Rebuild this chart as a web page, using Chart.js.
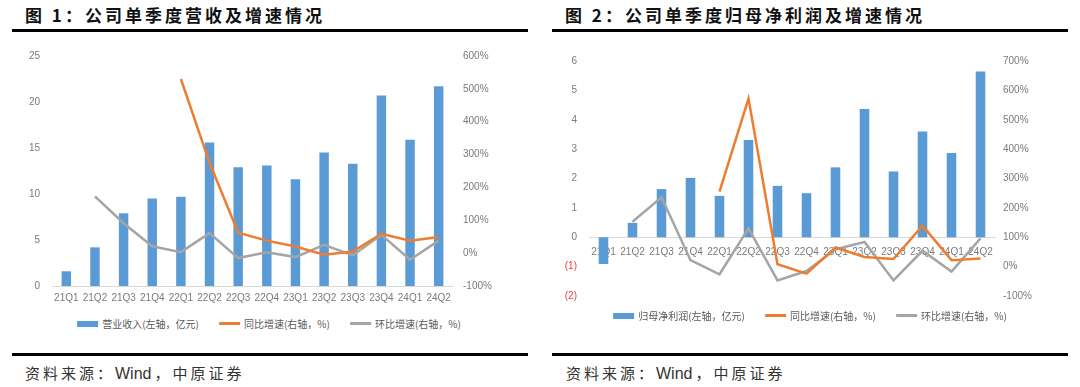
<!DOCTYPE html>
<html>
<head>
<meta charset="utf-8">
<script src="https://cdn.jsdelivr.net/npm/chart.js@4/dist/chart.umd.min.js"></script>
<style>
  html, body { margin:0; padding:0; background:#fff; }
  body { width:1080px; height:387px; position:relative; overflow:hidden; font-family:"Noto Sans CJK SC", "Liberation Sans", sans-serif; }
  .title { position:absolute; top:2px; font-weight:bold; font-size:17px; letter-spacing:3px; color:#111; white-space:nowrap; }
  .rule { position:absolute; background:#000; }
  .src { position:absolute; top:362px; font-size:15px; letter-spacing:3px; color:#333; white-space:nowrap; }
  .src .en { font-family:"Liberation Sans", Arial, sans-serif; letter-spacing:0; margin-right:3px; font-size:16px; }
  .box { position:absolute; }
  .legend { position:absolute; display:flex; gap:20px; font-size:10px; color:#595959; white-space:nowrap; transform:translateX(-50%); }
  .legend .it { display:flex; align-items:center; }
  .legend .sw { display:inline-block; width:21px; margin-right:4px; }
</style>
</head>
<body>
<div class="title" style="left:25px;">图 1：公司单季度营收及增速情况</div>
<div class="title" style="left:565px;">图 2：公司单季度归母净利润及增速情况</div>
<div class="rule" style="left:12px; width:516px; top:29px; height:3px;"></div>
<div class="rule" style="left:552px; width:516px; top:29px; height:3px;"></div>

<div class="box" style="left:0px; top:38px; width:540px; height:270px;"><canvas id="c1"></canvas></div>
<div class="box" style="left:540px; top:38px; width:540px; height:276px;"><canvas id="c2"></canvas></div>
<div class="legend" id="lg1" style="left:269px; top:316px;"></div>
<div class="legend" id="lg2" style="left:810px; top:308px;"></div>

<div class="rule" style="left:12px; width:516px; top:353px; height:3px;"></div>
<div class="rule" style="left:552px; width:516px; top:353px; height:3px;"></div>
<div class="src" style="left:25px;">资料来源：<span class="en">Wind</span>，中原证券</div>
<div class="src" style="left:566px;">资料来源：<span class="en">Wind</span>，中原证券</div>

<script>
// ---- Data ----
const categories = ['21Q1','21Q2','21Q3','21Q4','22Q1','22Q2','22Q3','22Q4','23Q1','23Q2','23Q3','23Q4','24Q1','24Q2'];

// Chart 1: revenue (亿元) and growth (%)
const revenue   = [1.6, 4.2, 7.9, 9.5, 9.7, 15.6, 12.9, 13.1, 11.6, 14.5, 13.3, 20.7, 15.9, 21.7];
const revYoY    = [null, null, null, null, 530, 275, 62, 38, 20, -5, 5, 59, 38, 49];
const revQoQ    = [null, 173, 91, 21, 3, 61, -15, 3, -12, 25, -7, 56, -20, 38];

// Chart 2: net profit attributable (亿元) and growth (%)
const netProfit = [-0.91, 0.49, 1.64, 2.02, 1.41, 3.31, 1.75, 1.5, 2.38, 4.37, 2.24, 3.6, 2.87, 5.64];
const npYoY     = [null, null, null, null, 255, 572, 8, -24, 65, 33, 26, 139, 22, 28];
const npQoQ     = [null, 153, 236, 22, -26, 130, -47, -15, 59, 84, -47, 54, -17, 96];

const legend1 = ['营业收入(左轴，亿元)', '同比增速(右轴，%)', '环比增速(右轴，%)'];
const legend2 = ['归母净利润(左轴，亿元)', '同比增速(右轴，%)', '环比增速(右轴，%)'];

const leftTicks1  = {min: 0, max: 25, step: 5};
const rightTicks1 = {min: -100, max: 600, step: 100};
const leftTicks2  = {min: -2, max: 6, step: 1};
const rightTicks2 = {min: -100, max: 700, step: 100};

// ---- Styles ----
const BLUE = '#5B9BD5', ORANGE = '#ED7D31', GRAY = '#A5A5A5';
const TICK = '#7a7a7a';
const tickFont = {family: '"Liberation Sans", Arial, sans-serif', size: 10};

function makeChart(id, labels, bars, yoy, qoq, names, lt, rt, opt) {
  const xScale = {
    type: 'category',
    grid: {display: false, drawTicks: false},
    border: {display: true, color: '#d9d9d9', width: 1},
    ticks: {color: TICK, font: tickFont, padding: opt.xPad, maxRotation: 0, autoSkip: false},
    offset: true,
    afterFit: (s) => { s.height = opt.xHeight; }
  };
  if (opt.xAtZero) xScale.position = {y: 0};
  return new Chart(document.getElementById(id), {
    type: 'bar',
    data: {
      labels: labels,
      datasets: [
        {type: 'line', label: names[1], data: yoy, yAxisID: 'y1', borderColor: ORANGE, backgroundColor: ORANGE,
         borderWidth: 2.5, pointRadius: 0, tension: 0, spanGaps: false, order: 1},
        {type: 'line', label: names[2], data: qoq, yAxisID: 'y1', borderColor: GRAY, backgroundColor: GRAY,
         borderWidth: 2.5, pointRadius: 0, tension: 0, spanGaps: false, order: 2},
        {type: 'bar', label: names[0], data: bars, yAxisID: 'y', backgroundColor: BLUE,
         barPercentage: 0.33, categoryPercentage: 1.0, order: 3}
      ]
    },
    options: {
      responsive: true, maintainAspectRatio: false, animation: false,
      layout: {padding: opt.padding},
      plugins: {legend: {display: false}, tooltip: {enabled: false}},
      scales: {
        x: xScale,
        y: {
          position: 'left', min: lt.min, max: lt.max,
          grid: {display: false, drawTicks: false},
          border: {display: false},
          ticks: {stepSize: lt.step, color: (c) => c.tick && c.tick.value < 0 ? '#ee3b3b' : TICK, font: tickFont, padding: 12,
                  callback: (v) => v < 0 ? '(' + (-v) + ')' : String(v)},
          afterFit: (s) => { s.width = opt.leftW; }
        },
        y1: {
          position: 'right', min: rt.min, max: rt.max,
          grid: {display: false, drawTicks: false},
          border: {display: false},
          ticks: {stepSize: rt.step, color: TICK, font: tickFont, padding: opt.rightPad,
                  callback: (v) => v + '%'},
          afterFit: (s) => { s.width = opt.rightW; }
        }
      }
    }
  });
}

const ch1 = makeChart('c1', categories, revenue, revYoY, revQoQ, legend1, leftTicks1, rightTicks1,
  {padding: {top: 18, bottom: 0, left: 0, right: 0}, leftW: 52, rightW: 87, rightPad: 10, xPad: 6, xHeight: 22});
const ch2 = makeChart('c2', categories, netProfit, npYoY, npQoQ, legend2, leftTicks2, rightTicks2,
  {padding: {top: 23, bottom: 3, left: 0, right: 0}, leftW: 49, rightW: 85, rightPad: 8, xPad: 9, xAtZero: true, xHeight: 0});

function buildLegend(chart, elId) {
  const el = document.getElementById(elId);
  const ds = chart.data.datasets;
  const orderIdx = [2, 0, 1];
  orderIdx.forEach(i => {
    const d = ds[i];
    const it = document.createElement('span'); it.className = 'it';
    const sw = document.createElement('span'); sw.className = 'sw';
    sw.style.background = d.type === 'bar' ? d.backgroundColor : d.borderColor;
    sw.style.height = d.type === 'bar' ? '6px' : '3px';
    const tx = document.createElement('span'); tx.textContent = d.label;
    it.appendChild(sw); it.appendChild(tx); el.appendChild(it);
  });
}
buildLegend(ch1, 'lg1');
buildLegend(ch2, 'lg2');
</script>
</body>
</html>
